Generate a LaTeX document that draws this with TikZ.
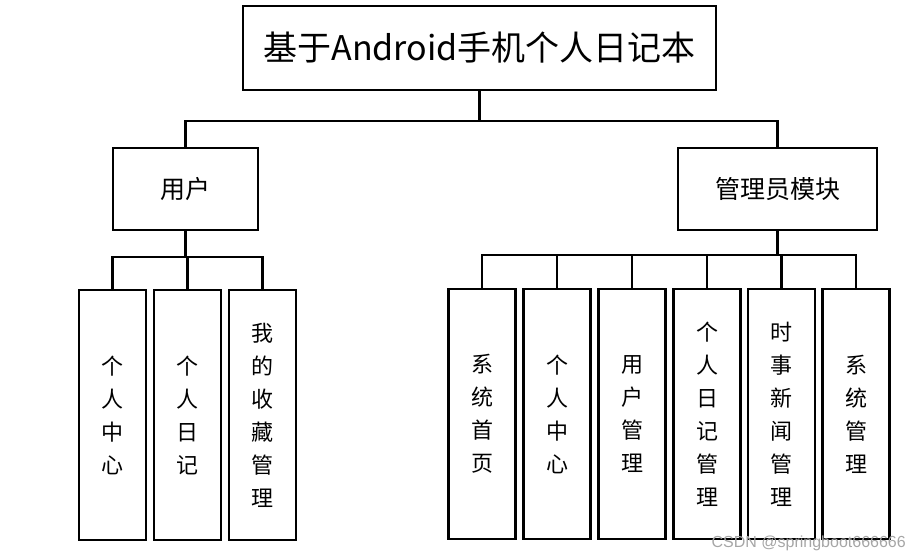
\documentclass[tikz,border=0pt]{standalone}
\usepackage{fontspec}
\setmainfont{Noto Sans CJK SC}
\newfontfamily\wmfont{Liberation Sans}
\begin{document}
\begin{tikzpicture}[x=1pt,y=-1pt,
  box/.style={draw=black,line width=2.2pt,rectangle,inner sep=0pt,align=center},
  leaf/.style={box,minimum width=67pt,minimum height=250pt,font=\fontsize{22}{33}\selectfont},
  mid/.style={box,minimum height=82pt,font=\fontsize{25}{30}\selectfont},
  conn/.style={line width=2.2pt,line cap=rect}]
\useasboundingbox (0,0) rectangle (909,559);
\node[box,minimum width=473pt,minimum height=84pt,font=\fontsize{34}{40}\selectfont] (top) at (479.5,48) {基于Android手机个人日记本};
\node[mid,minimum width=145pt] (user) at (185.5,189) {用户};
\node[mid,minimum width=199pt] (admin) at (777.5,189) {管理员模块};
\node[leaf] (l1) at (112.5,415) {个\\人\\中\\心};
\node[leaf] (l2) at (187.5,415) {个\\人\\日\\记};
\node[leaf] (l3) at (262.5,415) {我\\的\\收\\藏\\管\\理};
\node[leaf] (r1) at (482,414) {系\\统\\首\\页};
\node[leaf] (r2) at (557,414) {个\\人\\中\\心};
\node[leaf] (r3) at (632,414) {用\\户\\管\\理};
\node[leaf] (r4) at (707,414) {个\\人\\日\\记\\管\\理};
\node[leaf] (r5) at (781.5,414) {时\\事\\新\\闻\\管\\理};
\node[leaf] (r6) at (856,414) {系\\统\\管\\理};
\coordinate (b1) at (479.5,121);
\coordinate (b2) at (185.5,257);
\coordinate (b3) at (777.5,255);
\draw[conn] (top.south) -- (b1);
\draw[conn] (b1) -| (user.north);
\draw[conn] (b1) -| (admin.north);
\draw[conn] (user.south) -- (b2);
\foreach \n in {l1,l2,l3} {\draw[conn] (b2) -| (\n.north);}
\draw[conn] (admin.south) -- (b3);
\foreach \n in {r1,r2,r3,r4,r5,r6} {\draw[conn] (b3) -| (\n.north);}
\node[text=black!35,font=\wmfont\fontsize{16}{18}\selectfont,anchor=east,inner sep=0pt] (wm) at (906,543) {CSDN @springboot666666};
\end{tikzpicture}
\end{document}
